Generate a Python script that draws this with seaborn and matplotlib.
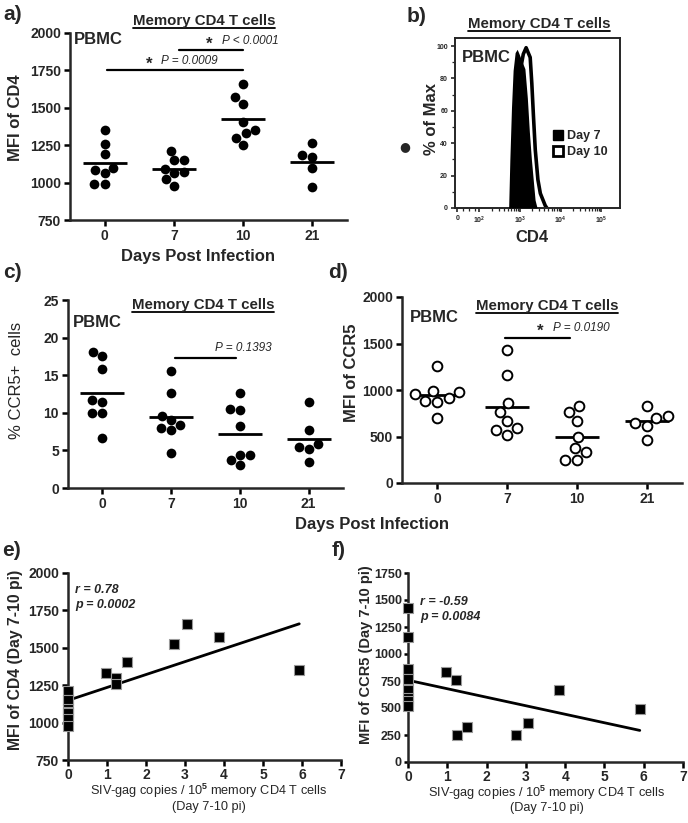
import numpy as np
import pandas as pd
import matplotlib
matplotlib.use("Agg")
import matplotlib.pyplot as plt
from matplotlib.lines import Line2D
from matplotlib.patches import Patch
import seaborn as sns

# ---- data ----
days = ["0", "7", "10", "21"]

# a) MFI of CD4 (PBMC, memory CD4 T cells)
cd4_d0 = [1353, 1259, 1190, 1100, 1085, 1063, 993, 989]
cd4_d7 = [1214, 1152, 1152, 1094, 1074, 1063, 1022, 978]
cd4_d10 = [1659, 1569, 1527, 1404, 1353, 1330, 1301, 1252]
cd4_d21 = [1268, 1185, 1170, 1100, 969]

# b) CD4 histogram, x in log10 units, y in % of max
day7_x = [2.72, 2.75, 2.79, 2.83, 2.88, 2.93, 2.98, 3.04, 3.12, 3.18, 3.23, 3.28, 3.33, 3.37, 3.42]
day7_pct = [0, 30, 62, 85, 96, 98, 95, 91, 86, 68, 47, 30, 16, 5, 0]
day10_x = [2.85, 2.92, 2.98, 3.03, 3.08, 3.15, 3.25, 3.29, 3.33, 3.375, 3.44, 3.50, 3.62, 3.66]
day10_pct = [0, 40, 72, 88, 95, 99, 93, 77, 57, 36, 17.5, 9, 1.5, 0]

# c) % CCR5+ cells
ccr5pct_d0 = [18.1, 17.5, 15.8, 11.7, 11.4, 10.0, 10.0, 6.7]
ccr5pct_d7 = [15.5, 12.6, 9.6, 9.1, 8.4, 8.0, 7.7, 4.6]
ccr5pct_d10 = [12.6, 10.5, 10.4, 8.3, 4.4, 4.4, 3.7, 3.0]
ccr5pct_d21 = [11.4, 7.7, 5.8, 5.5, 5.2, 3.4]

# d) MFI of CCR5
ccr5mfi_d0 = [1260, 989, 978, 953, 911, 882, 871, 703]
ccr5mfi_d7 = [1428, 1160, 857, 764, 664, 593, 568, 521]
ccr5mfi_d10 = [832, 760, 664, 493, 371, 328, 246, 246]
ccr5mfi_d21 = [832, 721, 703, 643, 614, 467]

# e) SIV-gag copies vs MFI of CD4 (day 7-10)
gag_e = [0, 0, 0, 0, 0, 0, 0, 0, 0.97, 1.23, 1.23, 1.50, 2.72, 3.06, 3.86, 5.93]
cd4_e = [1214, 1152, 1152, 1094, 1074, 1063, 1022, 978, 1330, 1297, 1259, 1404, 1525, 1658, 1571, 1353]

# f) SIV-gag copies vs MFI of CCR5 (day 7-10)
gag_f = [0, 0, 0, 0, 0, 0, 0, 0, 0.97, 1.23, 1.25, 1.51, 2.76, 3.05, 3.84, 5.90]
ccr5_f = [1428, 1160, 857, 764, 664, 593, 568, 521, 836, 759, 254, 325, 254, 363, 663, 490]

# ---- style ----
sns.set_style("ticks")
plt.rcParams["font.family"] = ["Liberation Sans", "DejaVu Sans"]
plt.rcParams["font.weight"] = "bold"
plt.rcParams["axes.labelweight"] = "bold"
plt.rcParams["mathtext.fontset"] = "custom"
plt.rcParams["mathtext.rm"] = "Liberation Sans"
plt.rcParams["mathtext.bf"] = "Liberation Sans:bold"
plt.rcParams["mathtext.it"] = "Liberation Sans:italic"

W, H = 688, 823
fig = plt.figure(figsize=(W / 100, H / 100), dpi=100, facecolor="white")
narrow = ["Liberation Sans Narrow", "Liberation Sans"]


def rect(l, t, r, b):
    return [l / W, 1 - b / H, (r - l) / W, (b - t) / H]


def ftext(x, y, s, **kw):
    kw.setdefault("va", "center")
    return fig.text(x / W, 1 - y / H, s, **kw)


def style_axis(ax, labelsize=10):
    for sp in ["left", "bottom"]:
        ax.spines[sp].set_linewidth(1.8)
    ax.tick_params(width=1.8, length=4, labelsize=labelsize, pad=2.5, color="black")
    for lbl in ax.get_xticklabels() + ax.get_yticklabels():
        lbl.set_fontweight("bold")


def dot_panel(ax, groups, ylim, yticks, open_marker=False):
    df = pd.DataFrame({"day": np.repeat(days, [len(g) for g in groups]),
                       "val": np.concatenate(groups)})
    if open_marker:
        sns.swarmplot(data=df, x="day", y="val", order=days, color="white",
                      edgecolor="black", linewidth=1.4, size=7, ax=ax)
    else:
        sns.swarmplot(data=df, x="day", y="val", order=days, color="black",
                      size=7, ax=ax)
    sns.pointplot(data=df, x="day", y="val", order=days, errorbar=None,
                  color="black", markers="_", linestyles="none",
                  markersize=32, markeredgewidth=2, ax=ax)
    ax.set_xlim(-0.5, 3.5)
    ax.set_ylim(*ylim)
    ax.set_yticks(yticks)
    ax.set_xlabel("")
    ax.set_ylabel("")
    sns.despine(ax=ax)
    style_axis(ax)


ax_a = fig.add_axes(rect(70, 33, 347, 220))
ax_b = fig.add_axes(rect(455, 38, 620, 208))
ax_c = fig.add_axes(rect(68, 300, 343, 488))
ax_d = fig.add_axes(rect(402, 297, 682, 483))
ax_e = fig.add_axes(rect(68, 573, 341, 760))
ax_f = fig.add_axes(rect(408, 573, 683, 762))

# a)
dot_panel(ax_a, [cd4_d0, cd4_d7, cd4_d10, cd4_d21], (750, 2000), range(750, 2001, 250))
ax_a.plot([0.04, 2.0], [1754, 1754], color="black", lw=1.6)
ax_a.plot([1.08, 2.0], [1884, 1884], color="black", lw=1.6)

# c)
dot_panel(ax_c, [ccr5pct_d0, ccr5pct_d7, ccr5pct_d10, ccr5pct_d21], (0, 25), range(0, 26, 5))
ax_c.plot([1.05, 1.94], [17.3, 17.3], color="black", lw=1.6)

# d)
dot_panel(ax_d, [ccr5mfi_d0, ccr5mfi_d7, ccr5mfi_d10, ccr5mfi_d21], (0, 2000),
          range(0, 2001, 500), open_marker=True)
ax_d.plot([0.97, 1.9], [1564, 1564], color="black", lw=1.6)

# b) histogram overlay
ax_b.fill_between(day10_x, day10_pct, color="white", lw=0, zorder=1)
sns.lineplot(x=day10_x, y=day10_pct, sort=False, color="black", lw=2.6, ax=ax_b, zorder=2)
ax_b.fill_between(day7_x, day7_pct, color="black", lw=0, zorder=3)
ax_b.set_xlim(1.40, 5.46)
ax_b.set_ylim(0, 105)
ax_b.set_yticks(range(0, 101, 20))
ax_b.set_yticks(range(0, 101, 10), minor=True)
ax_b.set_xticks([1.46, 2, 3, 4, 5])
ax_b.set_xticklabels(["0", r"$\mathbf{10^2}$", r"$\mathbf{10^3}$", r"$\mathbf{10^4}$", r"$\mathbf{10^5}$"])
minor_x = [d + np.log10(k) for d in (2, 3, 4) for k in range(2, 10)] + [1.6, 1.75, 1.88]
ax_b.set_xticks(minor_x, minor=True)
ax_b.set_xlabel("")
ax_b.set_ylabel("")
for sp in ax_b.spines.values():
    sp.set_linewidth(1.4)
ax_b.tick_params(which="major", width=1.2, length=3, labelsize=5, pad=2)
ax_b.tick_params(which="minor", width=0.9, length=2)
for lbl in ax_b.get_yticklabels():
    lbl.set_fontweight("bold")
ax_b.legend(handles=[Patch(facecolor="black", edgecolor="black", label="Day 7"),
                     Patch(facecolor="white", edgecolor="black", lw=2, label="Day 10")],
            loc="upper left", bbox_to_anchor=(0.555, 0.495), frameon=False,
            prop={"size": 9, "weight": "bold"}, handlelength=0.85, handleheight=0.85,
            handletextpad=0.3, labelspacing=0.25, borderpad=0)

# e) / f) correlations
for ax, xs, ys in [(ax_e, gag_e, cd4_e), (ax_f, gag_f, ccr5_f)]:
    sns.regplot(x=xs, y=ys, ci=None, marker="s", color="black", ax=ax,
                scatter_kws=dict(s=55, edgecolors="0.6", linewidths=0.8, clip_on=False, zorder=3, alpha=1),
                line_kws=dict(lw=2))
    ax.set_xlim(0, 7)
    ax.set_xticks(range(0, 8))
    sns.despine(ax=ax)
ax_e.set_ylim(750, 2000)
ax_e.set_yticks(range(750, 2001, 250))
ax_f.set_ylim(0, 1750)
ax_f.set_yticks(range(0, 1751, 250))
style_axis(ax_e)
style_axis(ax_f)
for ax in (ax_e, ax_f):
    ax.tick_params(axis="x", pad=1.5)
# f's y tick labels sit tighter against the axis in the original
ax_f.tick_params(axis="y", labelsize=9, length=3, pad=1.5)

# ---- texts ----
for s, x, y in [("a)", 3, 14), ("b)", 407, 17), ("c)", 3, 273),
                ("d)", 328, 273), ("e)", 2, 551), ("f)", 332, 551)]:
    ftext(x, y, s, fontsize=15, weight="bold", family=narrow, ha="left")

titles = []
for x, y in [(204, 25), (539, 28), (203, 309), (547, 310)]:
    titles.append(ftext(x, y, "Memory CD4 T cells", fontsize=10.8, weight="bold",
                        ha="center", va="baseline"))

for x, y in [(74, 40), (462, 58), (73, 322), (410, 318)]:
    ftext(x, y, "PBMC", fontsize=12, weight="bold", ha="left")

ftext(198, 257, "Days Post Infection", fontsize=12, weight="bold", ha="center")
ftext(372, 524, "Days Post Infection", fontsize=12, weight="bold", ha="center")

ftext(16, 118, "MFI of CD4", fontsize=12, weight="bold", rotation=90, ha="center")
ftext(431, 119, "% of Max", fontsize=12, weight="bold", rotation=90, ha="center")
ftext(532, 238, "CD4", fontsize=12, weight="bold", ha="center")
ftext(17, 380, "% CCR5+  cells", fontsize=12, weight="normal", rotation=90, ha="center")
ftext(351, 373, "MFI of CCR5", fontsize=12, weight="bold", rotation=90, ha="center")
ftext(16, 660, "MFI of CD4 (Day 7-10 pi)", fontsize=11.3, weight="bold", rotation=90, ha="center")
ftext(366, 655, "MFI of CCR5 (Day 7-10 pi)", fontsize=10.5, weight="bold", rotation=90, ha="center")

for x, y1, y2 in [(209, 791, 807), (547, 793, 808)]:
    ftext(x, y1, r"SIV-gag copies / 10$^{5}$ memory CD4 T cells", fontsize=9.2,
          weight="normal", ha="center")
    ftext(x, y2, "(Day 7-10 pi)", fontsize=9.2, weight="normal", ha="center")

# p-values
ftext(149, 64, "*", fontsize=12, weight="bold", ha="center")
ftext(161, 61, "P = 0.0009", fontsize=8.5, weight="normal", style="italic", ha="left")
ftext(209, 44, "*", fontsize=12, weight="bold", ha="center")
ftext(222, 41, "P < 0.0001", fontsize=8.5, weight="normal", style="italic", ha="left")
ftext(272, 348, "P = 0.1393", fontsize=8.5, weight="normal", style="italic", ha="right")
ftext(540, 331, "*", fontsize=12, weight="bold", ha="center")
ftext(553, 328, "P = 0.0190", fontsize=8.5, weight="normal", style="italic", ha="left")

ftext(75, 590, "r = 0.78", fontsize=9, weight="bold", style="italic", ha="left")
ftext(75, 605, "p = 0.0002", fontsize=9, weight="bold", style="italic", ha="left")
ftext(420, 602, "r = -0.59", fontsize=9, weight="bold", style="italic", ha="left")
ftext(420, 617, "p = 0.0084", fontsize=9, weight="bold", style="italic", ha="left")

# stray bullet present in the original figure
ftext(405, 147, "\u25cf", fontsize=9, family="DejaVu Sans", ha="center")

# underline the titles
fig.canvas.draw()
for t in titles:
    bb = t.get_window_extent()
    base = t.get_position()[1] * H - 2.5
    fig.add_artist(Line2D([bb.x0 / W, bb.x1 / W], [base / H, base / H],
                          transform=fig.transFigure, color="black", lw=1.3))

fig.savefig("out.png", dpi=100, facecolor="white")
